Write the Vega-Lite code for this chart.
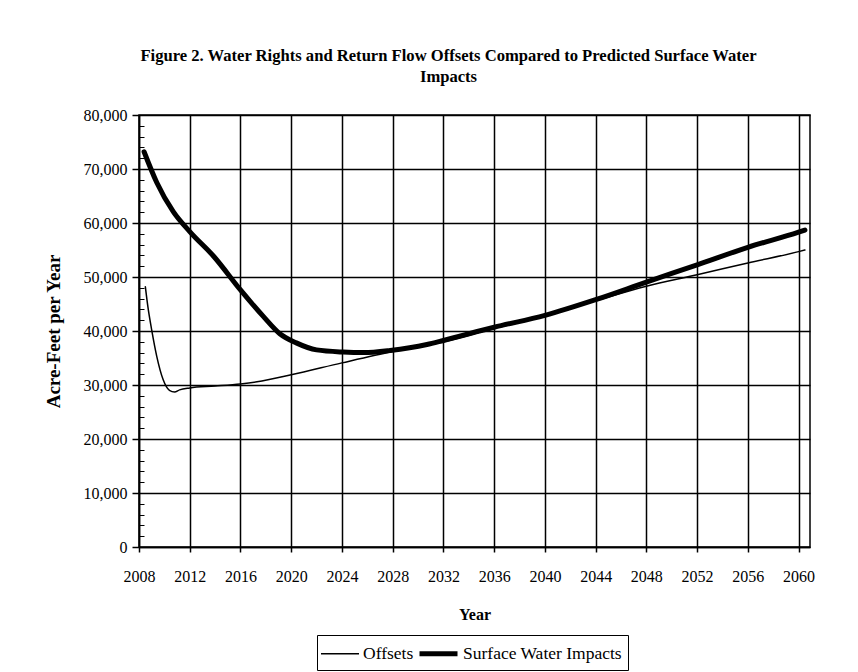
{
  "$schema": "https://vega.github.io/schema/vega-lite/v6.json",
  "width": 671,
  "height": 432,
  "autosize": "none",
  "padding": {"left": 139, "top": 115, "right": 48, "bottom": 125},
  "background": "white",
  "config": {
    "font": "Liberation Serif",
    "view": {"stroke": "black", "strokeWidth": 1.5},
    "legend": {"labelFont": "Liberation Serif", "labelFontSize": 17.5, "labelColor": "black"}
  },
  "title": {
    "text": ["Figure 2. Water Rights and Return Flow Offsets Compared to Predicted Surface Water", "Impacts"],
    "font": "Liberation Serif",
    "fontSize": 16.6,
    "fontWeight": "bold",
    "color": "black",
    "anchor": "middle",
    "dx": -26,
    "offset": 21,
    "lineHeight": 21
  },
  "data": {
    "values": [
      {"year": 2008.4, "value": 73200, "series": "Surface Water Impacts"},
      {"year": 2009.4, "value": 67500, "series": "Surface Water Impacts"},
      {"year": 2010.7, "value": 62100, "series": "Surface Water Impacts"},
      {"year": 2012.0, "value": 58400, "series": "Surface Water Impacts"},
      {"year": 2013.9, "value": 53800, "series": "Surface Water Impacts"},
      {"year": 2016.0, "value": 47600, "series": "Surface Water Impacts"},
      {"year": 2017.8, "value": 42700, "series": "Surface Water Impacts"},
      {"year": 2019.1, "value": 39500, "series": "Surface Water Impacts"},
      {"year": 2020.4, "value": 37800, "series": "Surface Water Impacts"},
      {"year": 2022.0, "value": 36500, "series": "Surface Water Impacts"},
      {"year": 2024.1, "value": 36100, "series": "Surface Water Impacts"},
      {"year": 2025.7, "value": 36000, "series": "Surface Water Impacts"},
      {"year": 2027.8, "value": 36400, "series": "Surface Water Impacts"},
      {"year": 2030.7, "value": 37500, "series": "Surface Water Impacts"},
      {"year": 2032.0, "value": 38250, "series": "Surface Water Impacts"},
      {"year": 2036.0, "value": 40700, "series": "Surface Water Impacts"},
      {"year": 2040.0, "value": 42900, "series": "Surface Water Impacts"},
      {"year": 2044.0, "value": 45800, "series": "Surface Water Impacts"},
      {"year": 2048.0, "value": 49050, "series": "Surface Water Impacts"},
      {"year": 2052.0, "value": 52250, "series": "Surface Water Impacts"},
      {"year": 2056.0, "value": 55500, "series": "Surface Water Impacts"},
      {"year": 2060.0, "value": 58300, "series": "Surface Water Impacts"},
      {"year": 2060.5, "value": 58700, "series": "Surface Water Impacts"},
      {"year": 2008.5, "value": 48200, "series": "Offsets"},
      {"year": 2008.7, "value": 44500, "series": "Offsets"},
      {"year": 2009.0, "value": 40200, "series": "Offsets"},
      {"year": 2009.4, "value": 35300, "series": "Offsets"},
      {"year": 2009.9, "value": 31000, "series": "Offsets"},
      {"year": 2010.4, "value": 29000, "series": "Offsets"},
      {"year": 2010.8, "value": 28700, "series": "Offsets"},
      {"year": 2011.2, "value": 29100, "series": "Offsets"},
      {"year": 2012.0, "value": 29450, "series": "Offsets"},
      {"year": 2014.0, "value": 29800, "series": "Offsets"},
      {"year": 2016.0, "value": 30200, "series": "Offsets"},
      {"year": 2017.3, "value": 30600, "series": "Offsets"},
      {"year": 2020.0, "value": 31900, "series": "Offsets"},
      {"year": 2024.0, "value": 34100, "series": "Offsets"},
      {"year": 2028.0, "value": 36200, "series": "Offsets"},
      {"year": 2032.0, "value": 38000, "series": "Offsets"},
      {"year": 2036.0, "value": 40500, "series": "Offsets"},
      {"year": 2040.0, "value": 42800, "series": "Offsets"},
      {"year": 2044.0, "value": 45600, "series": "Offsets"},
      {"year": 2048.0, "value": 48300, "series": "Offsets"},
      {"year": 2052.0, "value": 50400, "series": "Offsets"},
      {"year": 2056.0, "value": 52600, "series": "Offsets"},
      {"year": 2060.0, "value": 54700, "series": "Offsets"},
      {"year": 2060.5, "value": 55000, "series": "Offsets"}
    ]
  },
  "layer": [
    {
      "mark": {"type": "line", "color": "black", "interpolate": "monotone", "strokeCap": "round", "strokeJoin": "round"},
      "encoding": {
        "x": {
          "field": "year",
          "type": "quantitative",
          "scale": {"domain": [2008, 2060.9], "nice": false, "zero": false},
          "axis": {
            "title": "Year",
            "values": [2008, 2012, 2016, 2020, 2024, 2028, 2032, 2036, 2040, 2044, 2048, 2052, 2056, 2060],
            "labelExpr": "format(datum.value, 'd')",
            "labelFlush": false,
            "labelOverlap": false,
            "grid": true,
            "gridColor": "black",
            "gridWidth": 1.5,
            "gridOpacity": 1,
            "domainColor": "black",
            "domainWidth": 1.5,
            "tickColor": "black",
            "tickWidth": 1.5,
            "tickSize": 5,
            "labelFont": "Liberation Serif",
            "labelFontSize": 16,
            "labelColor": "black",
            "labelPadding": 16,
            "titleFont": "Liberation Serif",
            "titleFontSize": 16,
            "titleFontWeight": "bold",
            "titleColor": "black",
            "titlePadding": 22
          }
        },
        "y": {
          "field": "value",
          "type": "quantitative",
          "scale": {"domain": [0, 80000], "nice": false},
          "axis": {
            "title": "Acre-Feet per Year",
            "values": [0, 10000, 20000, 30000, 40000, 50000, 60000, 70000, 80000],
            "labelExpr": "format(datum.value, ',')",
            "labelOverlap": false,
            "grid": true,
            "gridColor": "black",
            "gridWidth": 1.5,
            "gridOpacity": 1,
            "domainColor": "black",
            "domainWidth": 1.5,
            "tickColor": "black",
            "tickWidth": 1.5,
            "tickSize": 7,
            "labelFont": "Liberation Serif",
            "labelFontSize": 16,
            "labelColor": "black",
            "labelPadding": 5,
            "titleFont": "Liberation Serif",
            "titleFontSize": 19,
            "titleFontWeight": "bold",
            "titleColor": "black",
            "titlePadding": 20
          }
        },
        "strokeWidth": {
          "field": "series",
          "type": "ordinal",
          "scale": {"domain": ["Offsets", "Surface Water Impacts"], "range": [1.5, 5]},
          "legend": {
            "title": null,
            "orient": "none",
            "legendX": 178,
            "legendY": 520,
            "direction": "horizontal",
            "strokeColor": "black",
            "padding": 6,
            "symbolType": "M-1.9,0H1.9",
            "symbolStrokeColor": "black",
            "symbolSize": 400,
            "symbolOffset": 6,
            "labelFont": "Liberation Serif",
            "labelFontSize": 17.5,
            "labelColor": "black",
            "labelOffset": 12,
            "columnPadding": -5
          }
        }
      }
    },
    {
      "mark": {"type": "line", "opacity": 0},
      "encoding": {
        "x": {"field": "year", "type": "quantitative"},
        "y": {
          "field": "value",
          "type": "quantitative",
          "axis": {
            "orient": "left",
            "title": null,
            "tickCount": 40,
            "labels": false,
            "grid": false,
            "domain": false,
            "tickColor": "black",
            "tickWidth": 1,
            "tickSize": -5
          }
        },
        "detail": {"field": "series"}
      }
    }
  ],
  "resolve": {"axis": {"y": "independent"}}
}
